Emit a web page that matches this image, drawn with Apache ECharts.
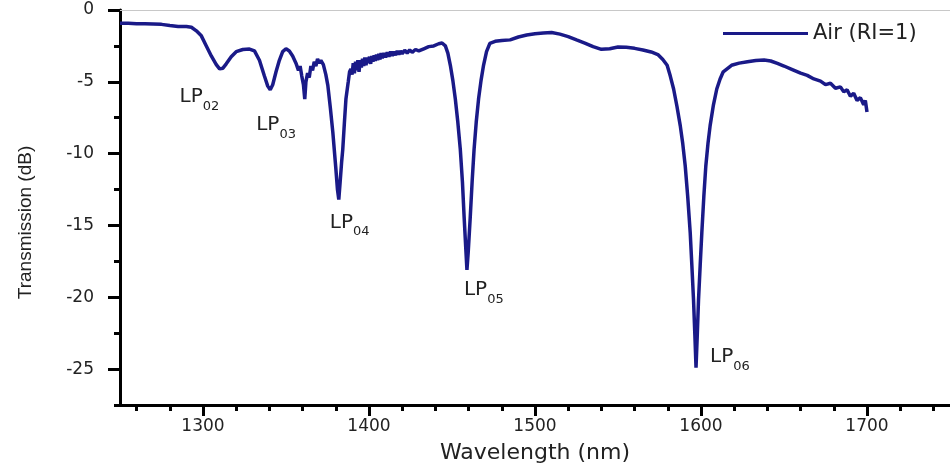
<!DOCTYPE html>
<html>
<head>
<meta charset="utf-8">
<title>Transmission spectrum</title>
<script src="https://cdn.jsdelivr.net/npm/echarts@6/dist/echarts.min.js"></script>
<style>
  html, body { margin: 0; padding: 0; background: #fff; }
  #chart { width: 950px; height: 470px; }
</style>
</head>
<body>
<div id="chart"></div>
<script>
const wavelength = [
  1250, 1255, 1260, 1265, 1270, 1275, 1280, 1285, 1290, 1293,
  1296, 1299, 1302, 1305, 1308, 1310, 1312, 1314, 1317, 1320,
  1324, 1328, 1331, 1334, 1337, 1339, 1340.5, 1342, 1344, 1346,
  1348, 1350, 1352, 1354, 1356, 1357.5, 1358.5, 1359.5, 1360.5, 1361.3,
  1362, 1363, 1364, 1365, 1366, 1367, 1368, 1369, 1370, 1371,
  1372.5, 1374, 1375.2, 1376.7, 1378.2, 1380, 1381, 1381.8, 1382.6, 1383.5,
  1384.2, 1385.2, 1386.1, 1387.5, 1388.3, 1389.1, 1389.8, 1390.5, 1391.2, 1391.9,
  1392.6, 1393.3, 1394, 1394.7, 1395.4, 1396.1, 1396.8, 1397.5, 1398.2, 1398.9,
  1399.6, 1400.3, 1401, 1401.7, 1402.4, 1403.1, 1403.8, 1404.5, 1405.2, 1405.9,
  1406.6, 1407.3, 1408, 1409, 1410, 1411, 1412, 1413, 1414, 1415,
  1416, 1417, 1418, 1419, 1420, 1421.5, 1423, 1424.5, 1426,
  1428, 1430, 1433, 1436, 1439, 1442, 1444, 1446, 1447.5, 1449,
  1450.5, 1452, 1453.5, 1455, 1456.3, 1457.3, 1458.3, 1459, 1459.8, 1461,
  1462.2, 1463.3, 1464.6, 1466, 1467.5, 1469, 1470.8, 1472.8, 1476, 1480,
  1485, 1490, 1495, 1500, 1505, 1510, 1515, 1520, 1525, 1530,
  1535, 1540, 1545, 1550, 1555, 1560, 1565, 1570, 1574, 1577,
  1579.6, 1581.5, 1583.5, 1585.5, 1587.5, 1589, 1590.5, 1592, 1593.5, 1594.5,
  1595.5, 1596.3, 1597, 1597.7, 1598.5, 1599.5, 1600.5, 1601.7, 1602.9, 1604.2,
  1605.5, 1607.5, 1609.5, 1611.5, 1613.4, 1618.4, 1623, 1628, 1633, 1638,
  1642, 1646, 1650, 1655, 1660, 1664, 1668, 1672, 1675, 1678,
  1681, 1684, 1686, 1688, 1690, 1692, 1694, 1696, 1698, 1699, 1700
]
const transmissionDb = [
  -0.92, -0.93, -0.95, -0.96, -0.97, -1.0, -1.08, -1.15, -1.15, -1.2,
  -1.45, -1.8, -2.5, -3.2, -3.8, -4.1, -4.05, -3.75, -3.25, -2.9,
  -2.75, -2.72, -2.85, -3.5, -4.6, -5.3, -5.55, -5.2, -4.3, -3.5,
  -2.9, -2.7, -2.85, -3.2, -3.7, -4.2, -3.9, -4.6, -5.2, -6.2,
  -5.0, -4.4, -4.7, -3.9, -4.2, -3.6, -3.9, -3.4, -3.7, -3.5,
  -3.8, -4.5, -5.25, -6.8, -8.5, -11.0, -12.5, -13.2, -12.0, -10.6,
  -9.7, -7.8, -6.2, -5.0, -4.3, -4.1, -4.5, -3.7, -4.4, -3.6,
  -4.2, -3.5, -4.3, -3.5, -4.0, -3.4, -3.9, -3.3, -3.85, -3.3,
  -3.7, -3.25, -3.75, -3.2, -3.6, -3.15, -3.55, -3.1, -3.5, -3.05,
  -3.45, -3.0, -3.35, -3.0, -3.3, -2.95, -3.25, -2.9, -3.2, -2.9,
  -3.15, -2.85, -3.1, -2.85, -3.05, -2.8, -3.0, -2.78, -2.95,
  -2.75, -2.85, -2.7, -2.55, -2.5, -2.35, -2.3, -2.5, -3.0, -3.85,
  -4.9, -6.2, -7.8, -9.7, -12.0, -14.4, -16.6, -18.1, -16.8, -14.4,
  -11.8, -9.7, -7.8, -6.2, -4.9, -3.85, -2.9, -2.32, -2.18, -2.12,
  -2.08, -1.88, -1.74, -1.65, -1.6, -1.57, -1.68, -1.85, -2.08, -2.3,
  -2.55, -2.74, -2.7, -2.58, -2.6, -2.67, -2.78, -2.92, -3.1, -3.45,
  -3.85, -4.6, -5.5, -6.7, -8.05, -9.3, -10.86, -13.0, -15.5, -17.8,
  -20.2, -22.6, -24.9, -22.8, -20.2, -17.8, -15.5, -13.0, -10.86, -9.3,
  -8.05, -6.6, -5.5, -4.8, -4.3, -3.85, -3.7, -3.6, -3.52, -3.48,
  -3.55, -3.72, -3.9, -4.15, -4.4, -4.55, -4.8, -4.95, -5.2, -5.1,
  -5.45, -5.35, -5.7, -5.55, -6.0, -5.8, -6.3, -6.1, -6.6, -6.3, -7.1
]
if (wavelength.length !== transmissionDb.length) console.error('length mismatch')

// mode dips and their names
const modeNames = ['02', '03', '04', '05', '06']
const modeDipWl = [1310, 1340.5, 1381.8, 1459, 1597]
const modeDipDb = [-4.1, -5.55, -13.2, -18.1, -24.9]

const xMajorTicks = [1300, 1400, 1500, 1600, 1700]
const xMinorTicks = [1260, 1280, 1320, 1340, 1360, 1380, 1420, 1440, 1460, 1480,
  1520, 1540, 1560, 1580, 1620, 1640, 1660, 1680, 1720, 1740]
const yMajorTicks = [0, -5, -10, -15, -20, -25]
const yMinorTicks = [-2.5, -7.5, -12.5, -17.5, -22.5, -27.5]

const seriesName = 'Air (RI=1)'

// pixel offsets of each LP label from its dip
const labelOffsets = [[-40, 31], [-14, 38], [-9, 26], [-3, 23], [14, -8]]

const lineColor = '#1a1a88'
const font = 'DejaVu Sans'
const plotBox = { left: 120, right: -5, top: 10, bottom: 65 }
const xRange = { min: 1250, max: 1750 }
const yRange = { min: -27.5, max: 0 }

const chart = echarts.init(document.getElementById('chart'))

const points = wavelength.map((w, i) => [w, transmissionDb[i]])

const modeMarks = modeNames.map((m, i) => ({
  coord: [modeDipWl[i], modeDipDb[i]],
  value: m,
  label: { offset: labelOffsets[i] }
}))

const tickLine = { color: '#000', width: 3 }

chart.setOption({
  animation: false,
  // second grid only carries the minor ticks
  grid: [Object.assign({}, plotBox), Object.assign({}, plotBox)],
  legend: {
    data: [seriesName],
    left: 718,
    top: 18,
    icon: 'rect',
    itemWidth: 85,
    itemHeight: 3,
    textStyle: { fontFamily: font, fontSize: 21, color: '#222' }
  },
  xAxis: [{
    type: 'value',
    gridIndex: 0,
    min: xRange.min,
    max: xRange.max,
    position: 'bottom',
    axisLine: { onZero: false, lineStyle: { color: '#000', width: 3 } },
    axisTick: { customValues: xMajorTicks, length: 11, lineStyle: tickLine },
    axisLabel: {
      customValues: xMajorTicks,
      formatter: (v) => String(v),
      fontFamily: font, fontSize: 17, color: '#222', margin: 13
    },
    splitLine: { show: false },
    name: 'Wavelength (nm)',
    nameLocation: 'middle',
    nameGap: 37,
    nameTextStyle: { fontFamily: font, fontSize: 22, color: '#222' }
  }, {
    type: 'value',
    gridIndex: 0,
    min: xRange.min,
    max: xRange.max,
    position: 'top',
    axisLine: { onZero: false, lineStyle: { color: '#c8c8c8', width: 1 } },
    axisTick: { show: false },
    axisLabel: { show: false },
    splitLine: { show: false }
  }, {
    type: 'value',
    gridIndex: 1,
    min: xRange.min,
    max: xRange.max,
    position: 'bottom',
    axisLine: { show: false, onZero: false },
    axisTick: { customValues: xMinorTicks, length: 6, lineStyle: tickLine },
    axisLabel: { show: false },
    splitLine: { show: false }
  }],
  yAxis: [{
    type: 'value',
    gridIndex: 0,
    min: yRange.min,
    max: yRange.max,
    position: 'left',
    axisLine: { show: true, onZero: false, lineStyle: { color: '#000', width: 3 } },
    axisTick: { show: true, customValues: yMajorTicks, length: 12, lineStyle: tickLine },
    axisLabel: {
      customValues: yMajorTicks,
      formatter: (v) => String(v),
      fontFamily: font, fontSize: 17, color: '#222', margin: 26
    },
    splitLine: { show: false },
    name: 'Transmission (dB)',
    nameLocation: 'middle',
    nameRotate: 90,
    nameGap: 85,
    nameTextStyle: { fontFamily: 'Liberation Sans', fontSize: 19, color: '#222', padding: [0, 30, 0, 0] }
  }, {
    type: 'value',
    gridIndex: 1,
    min: yRange.min,
    max: yRange.max,
    position: 'left',
    axisLine: { show: false, onZero: false },
    axisTick: { show: true, customValues: yMinorTicks, length: 6, lineStyle: tickLine },
    axisLabel: { show: false },
    splitLine: { show: false }
  }],
  series: [{
    name: seriesName,
    type: 'line',
    xAxisIndex: 0,
    yAxisIndex: 0,
    data: points,
    symbol: 'none',
    color: lineColor,
    lineStyle: { color: lineColor, width: 3.5 },
    markPoint: {
      symbol: 'circle',
      symbolSize: 0,
      silent: true,
      label: {
        show: true,
        position: 'right',
        distance: 0,
        formatter: (p) => '{a|LP}{b|' + p.value + '}',
        rich: {
          a: { fontFamily: font, fontSize: 20, lineHeight: 20, verticalAlign: 'top', color: '#222' },
          b: { fontFamily: font, fontSize: 13, lineHeight: 26, verticalAlign: 'bottom', color: '#222' }
        }
      },
      data: modeMarks
    }
  }]
})
</script>
</body>
</html>
